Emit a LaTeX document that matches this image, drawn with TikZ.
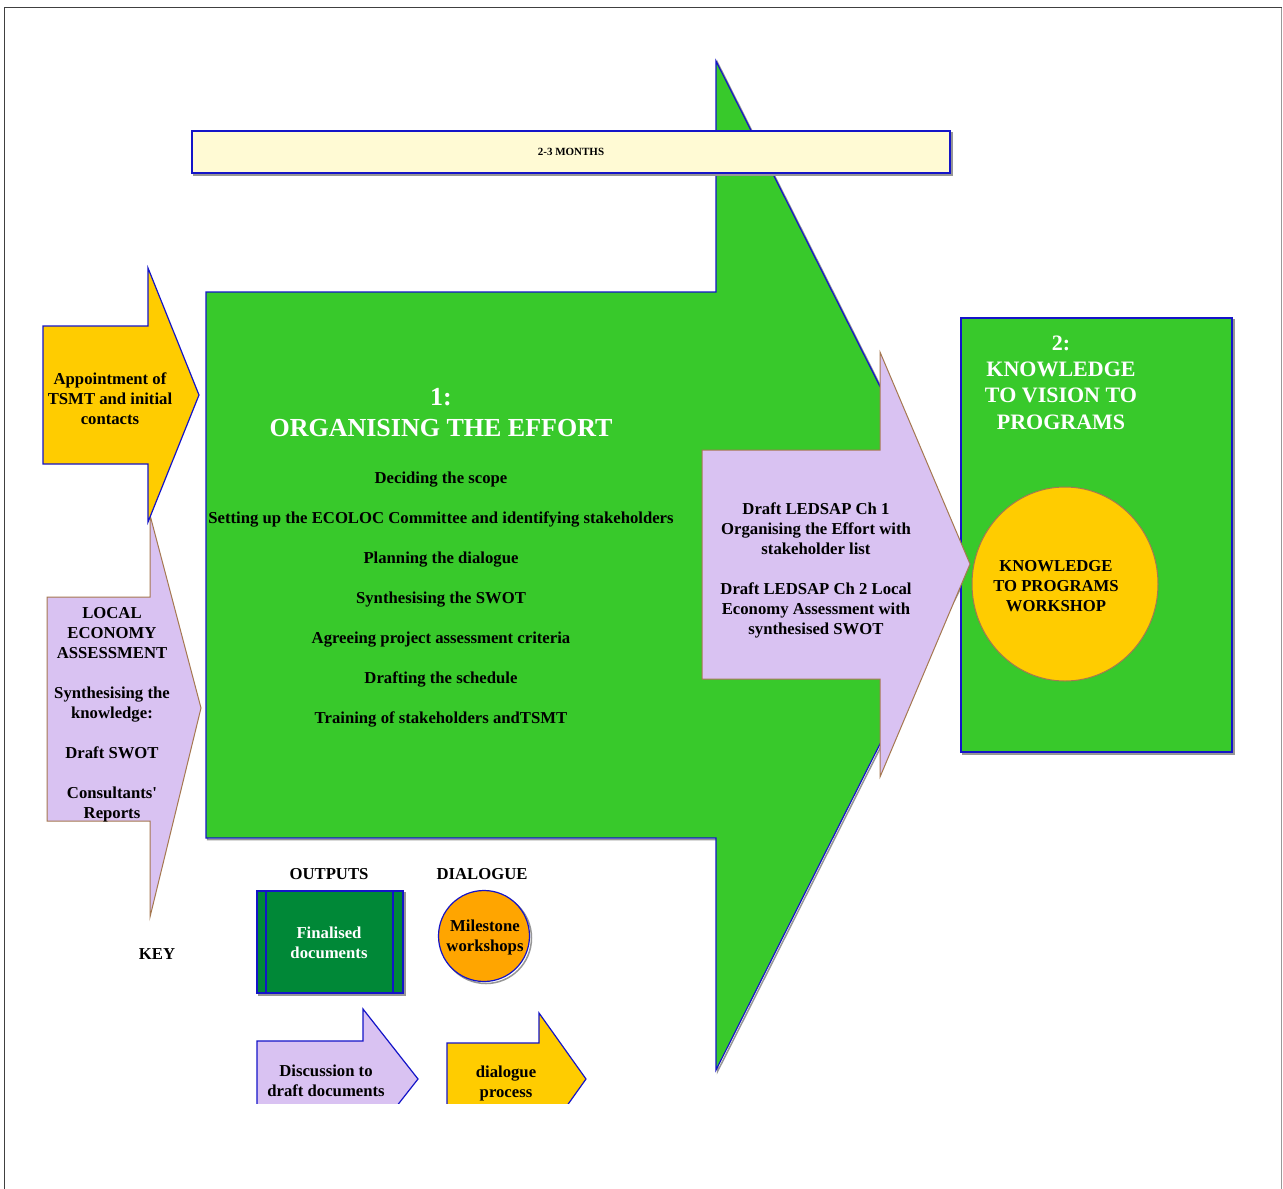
\documentclass[tikz,border=0pt]{standalone}
\usepackage{fontspec}
\newfontfamily\tnr{Liberation Serif}
\definecolor{leafgreen}{RGB}{56,201,43}
\definecolor{darkleaf}{RGB}{0,136,55}
\definecolor{sun}{RGB}{255,204,0}
\definecolor{lilac}{RGB}{217,194,242}
\definecolor{cream}{RGB}{255,250,212}
\definecolor{tangerine}{RGB}{255,165,0}
\definecolor{edgeblue}{RGB}{20,20,200}
\definecolor{edgebrown}{RGB}{165,120,80}
\definecolor{shade}{RGB}{150,150,150}
\tikzset{
  txt/.style={font=\tnr\bfseries\fontsize{16.7}{20}\selectfont, align=center, inner sep=0pt, yshift=-2pt},
  wtxt/.style={txt, text=white},
  bigtitle/.style={font=\tnr\bfseries\fontsize{26}{31}\selectfont, align=center, inner sep=0pt, text=white, yshift=-2pt},
  boxtitle/.style={font=\tnr\bfseries\fontsize{22}{26.3}\selectfont, align=center, inner sep=0pt, text=white, yshift=-1pt},
  blueedge/.style={draw=edgeblue, line width=1.2pt},
  brownedge/.style={draw=edgebrown, line width=1pt},
  shadow/.style={draw=shade, line width=1.5pt},
}
\begin{document}
\begin{tikzpicture}[x=1pt,y=-1pt]
\useasboundingbox (0,0) rectangle (1283,1189);
\fill[white] (0,0) rectangle (1283,1189);
% page frame
\draw[black!75, line width=1.8pt] (4.5,1189) -- (4.5,7.5) -- (1281.5,7.5);
\draw[black!40, line width=1.5pt] (1281.5,7.5) -- (1281.5,1189);

% main phase arrow
\draw[shadow] (207.5,293.5) -- (717.5,293.5) -- (717.5,62.5) -- (971.5,566.5) -- (717.5,1071.5) -- (717.5,839.5) -- (207.5,839.5) -- cycle;
\filldraw[fill=leafgreen, blueedge] (206,292) -- (716,292) -- (716,61) -- (970,565) -- (716,1070) -- (716,838) -- (206,838) -- cycle;

% duration bar
\draw[shadow] (194,133) rectangle (952,175);
\filldraw[fill=cream, blueedge] (192,131) rectangle (950,173);
\node[font=\tnr\bfseries\fontsize{11}{12}\selectfont, inner sep=0pt] (months) at (571,152) {2-3 MONTHS};

% phase 2 box
\draw[shadow] (963,320) rectangle (1234,754);
\filldraw[fill=leafgreen, blueedge] (961,318) rectangle (1232,752);
\node[boxtitle] (phase2) at (1061,381.5) {2:\\KNOWLEDGE\\TO VISION TO\\PROGRAMS};
\filldraw[fill=sun, brownedge] (1065,584) ellipse [x radius=93, y radius=97];
\node[txt] (workshop) at (1056,584) {KNOWLEDGE\\TO PROGRAMS\\WORKSHOP};

% output arrow between the phases
\filldraw[fill=lilac, brownedge] (702,450) -- (880,450) -- (880,352) -- (970,564) -- (880,777) -- (880,679) -- (702,679) -- cycle;
\node[txt] (drafts) at (816,568) {Draft LEDSAP Ch 1\\Organising the Effort with\\stakeholder list\\[20pt]Draft LEDSAP Ch 2 Local\\Economy Assessment with\\synthesised SWOT};

% phase 1 text
\node[bigtitle] (phase1) at (441,410.5) {1:\\ORGANISING THE EFFORT};
\node[txt] (tasks) at (441,598) {Deciding the scope\\[20pt]Setting up the ECOLOC Committee and identifying stakeholders\\[20pt]Planning the dialogue\\[20pt]Synthesising the SWOT\\[20pt]Agreeing project assessment criteria\\[20pt]Drafting the schedule\\[20pt]Training of stakeholders andTSMT};

% input arrows on the left
\filldraw[fill=lilac, brownedge] (47,597) -- (150,597) -- (150,515) -- (201,708) -- (150,917) -- (150,821) -- (47,821) -- cycle;
\node[txt] (lea) at (112,713) {LOCAL\\ECONOMY\\ASSESSMENT\\[20pt]Synthesising the\\knowledge:\\[20pt]Draft SWOT\\[20pt]Consultants'\\Reports};
\filldraw[fill=sun, blueedge] (43,326) -- (148,326) -- (148,268) -- (199,395) -- (148,522) -- (148,464) -- (43,464) -- cycle;
\node[txt] (appoint) at (110,397) {Appointment of\\TSMT and initial\\contacts};

% key
\node[txt] (keylabel) at (157,952) {KEY};
\node[txt] (outputs) at (329,872) {OUTPUTS};
\node[txt] (dialogue) at (482,872) {DIALOGUE};
\draw[shadow] (259,893) rectangle (405,995);
\filldraw[fill=darkleaf, blueedge] (257,891) rectangle (403,993);
\draw[blueedge] (266,891) -- (266,993) (393,891) -- (393,993);
\node[wtxt] (final) at (329,941) {Finalised\\documents};
\draw[shadow] (486,938) circle [radius=45.5];
\filldraw[fill=tangerine, blueedge] (484,936) circle [radius=45.5];
\node[txt] (milestone) at (485,935) {Milestone\\workshops};
\begin{scope}
\clip (0,0) rectangle (1283,1103);
\filldraw[fill=lilac, blueedge] (257,1041) -- (363,1041) -- (363,1009) -- (418,1079) -- (363,1149) -- (363,1117) -- (257,1117) -- cycle;
\filldraw[fill=sun, blueedge] (447,1043) -- (539,1043) -- (539,1013) -- (586,1079) -- (539,1145) -- (539,1115) -- (447,1115) -- cycle;
\end{scope}
\node[txt] (discuss) at (326,1079) {Discussion to\\draft documents};
\node[txt] (process) at (506,1081) {dialogue\\process};
\end{tikzpicture}
\end{document}
